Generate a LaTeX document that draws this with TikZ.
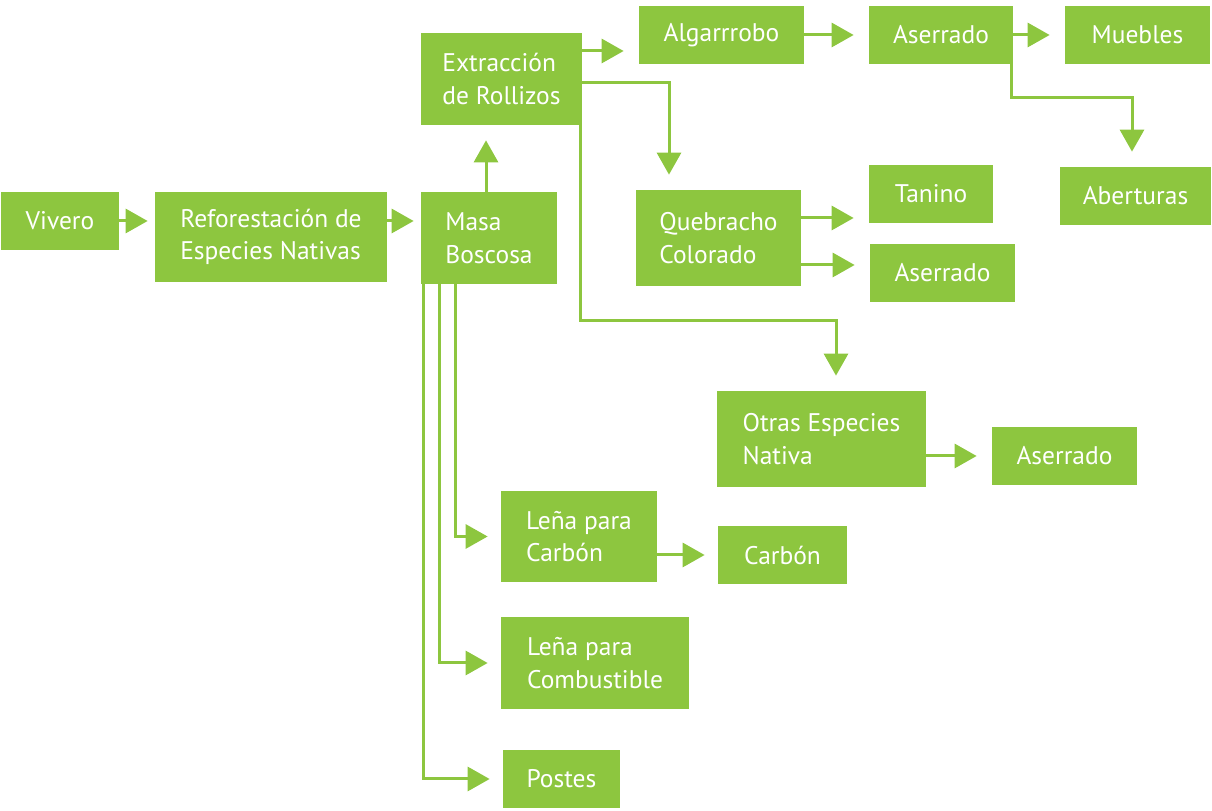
\documentclass[tikz,border=0pt]{standalone}
\usepackage{fontspec}
\setmainfont{PT Sans}
\usepackage{tikz}
\usetikzlibrary{arrows.meta}
\definecolor{leafgreen}{HTML}{8DC63F}

\begin{document}
\begin{tikzpicture}[
        box/.style={fill=leafgreen, text=white, align=left, inner sep=0pt, minimum height=1.16cm,
                font=\fontsize{14.5}{18.5}\selectfont},
        flow/.style={draw=leafgreen, line width=0.06cm, -{Triangle[length=0.44cm,width=0.48cm]}, shorten >=0.3cm}
        ]
        \useasboundingbox (0,0) rectangle (24.24,16.22);
        \node[box, minimum width=2.36cm] (vivero) at (1.20,11.80) {Vivero};
        \node[box, minimum width=4.64cm, minimum height=1.80cm] (refor) at (5.42,11.48) {Reforestación de\\Especies Nativas};
        \node[box, minimum width=2.72cm, minimum height=1.84cm] (masa) at (9.78,11.46) {Masa\\Boscosa};
        \node[box, minimum width=3.22cm, minimum height=1.84cm] (extr) at (10.03,14.64) {Extracción\\de Rollizos};
        \node[box, minimum width=3.30cm] (algar) at (14.43,15.52) {Algarrrobo};
        \node[box, minimum width=2.88cm] (aser1) at (18.82,15.52) {Aserrado};
        \node[box, minimum width=2.90cm] (muebles) at (22.75,15.52) {Muebles};
        \node[box, minimum width=3.02cm] (aberturas) at (22.71,12.30) {Aberturas};
        \node[box, minimum width=3.30cm, minimum height=1.92cm] (queb) at (14.37,11.46) {Quebracho\\Colorado};
        \node[box, minimum width=2.48cm] (tanino) at (18.62,12.34) {Tanino};
        \node[box, minimum width=2.90cm] (aser2) at (18.85,10.76) {Aserrado};
        \node[box, minimum width=4.18cm, minimum height=1.92cm] (otras) at (16.43,7.44) {Otras Especies\\Nativa};
        \node[box, minimum width=2.90cm] (aser3) at (21.29,7.10) {Aserrado};
        \node[box, minimum width=3.12cm, minimum height=1.82cm] (lenacarb) at (11.58,5.49) {Leña para\\Carbón};
        \node[box, minimum width=2.58cm] (carbon) at (15.65,5.12) {Carbón};
        \node[box, minimum width=3.76cm, minimum height=1.84cm] (lenacomb) at (11.90,2.96) {Leña para\\Combustible};
        \node[box, minimum width=2.34cm] (postes) at (11.23,0.64) {Postes};

        \draw[flow, shorten >=0.14cm] (vivero.east) -- (vivero.east -| refor.west);
        \draw[flow, shorten >=0.14cm] ([yshift=0.32cm]refor.east) -- ([yshift=0.32cm]refor.east -| masa.west);
        \draw[flow] ([xshift=-0.06cm]masa.north) -- ([xshift=-0.06cm]masa.north |- extr.south);
        % salidas de la extraccion
        \draw[flow] ([yshift=0.56cm]extr.east) -- ([yshift=0.56cm]extr.east -| algar.west);
        \draw[flow] ([yshift=-0.08cm]extr.east) -| ([xshift=-0.99cm]queb.north);
        \draw[flow] ([xshift=-0.04cm]extr.south east) -- ++(0,-3.9) -| ([xshift=0.29cm]otras.north);
        \draw[flow] (algar.east) -- (aser1.west);
        \draw[flow] (aser1.east) -- (muebles.west);
        \draw[flow] ([xshift=-0.04cm]aser1.south east) -- ++(0,-0.66) -| ([xshift=-0.07cm]aberturas.north);
        \draw[flow] ([yshift=0.4cm]queb.east) -- ([yshift=0.4cm]queb.east -| tanino.west);
        \draw[flow] ([yshift=-0.54cm]queb.east) -- ([yshift=-0.54cm]queb.east -| aser2.west);
        \draw[flow] (otras.east |- aser3) -- (aser3.west);
        % salidas de la masa boscosa
        \draw[flow, shorten >=0.26cm] ([xshift=-0.68cm]masa.south) |- (lenacarb.west);
        \draw[flow, shorten >=0.26cm] ([xshift=-1.0cm]masa.south) |- (lenacomb.west);
        \draw[flow, shorten >=0.26cm] ([xshift=-1.32cm]masa.south) |- (postes.west);
        \draw[flow, shorten >=0.26cm] (lenacarb.east |- carbon) -- (carbon.west);
\end{tikzpicture}
\end{document}
